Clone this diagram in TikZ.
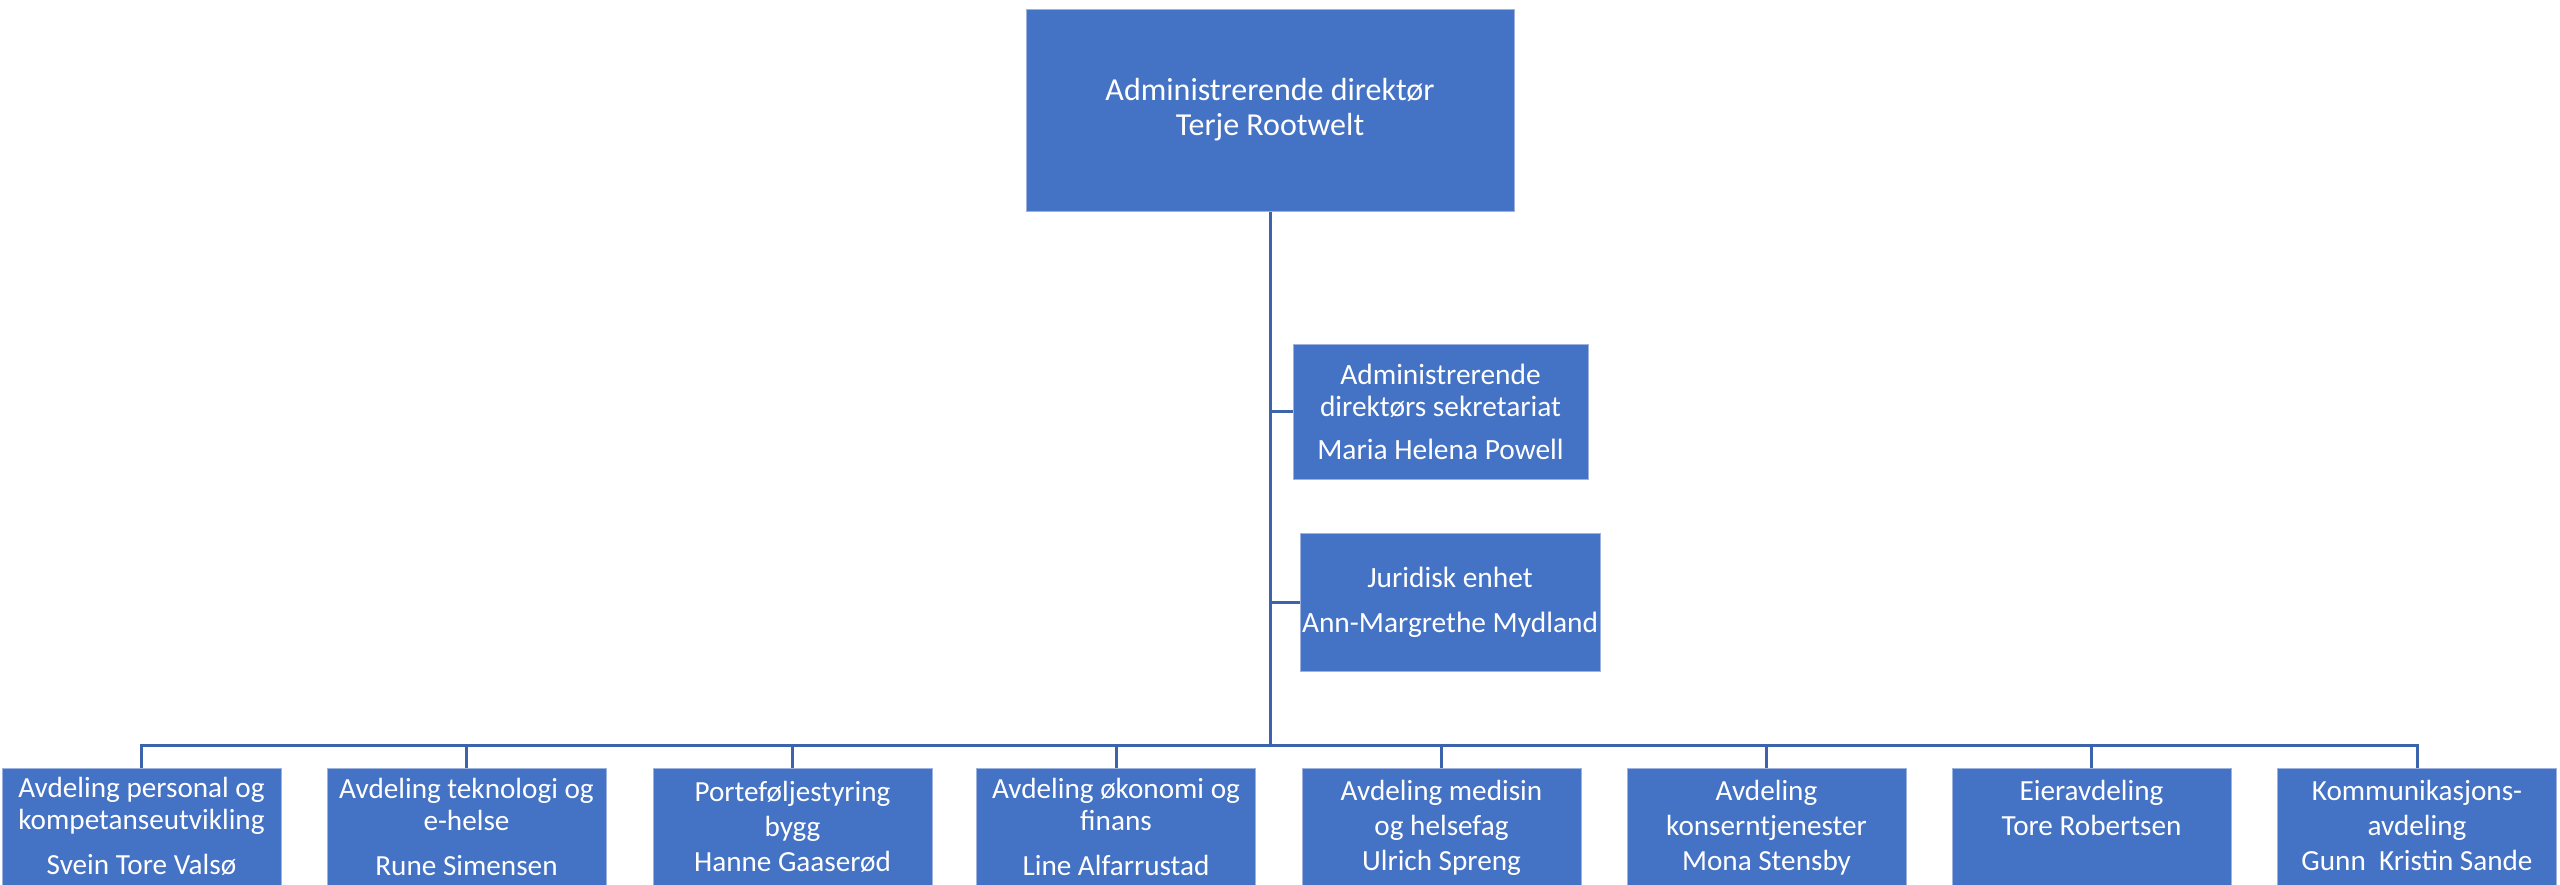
\documentclass[tikz,border=0pt]{standalone}
\usepackage{fontspec}
\setmainfont{Carlito}
\definecolor{boxblue}{HTML}{4472C4}
\definecolor{boxedge}{HTML}{9DB2DE}
\definecolor{linkblue}{HTML}{3B64AD}
\newcommand\deptbody[3]{\parbox[t][70pt][t]{139.5pt}{\centering\fontsize{14.6}{#2}\selectfont\rule{0pt}{#1}#3}}
\begin{document}
\begin{tikzpicture}[x=0.5pt,y=-0.5pt,
  unitbox/.style={rectangle, fill=boxblue, draw=boxedge, line width=0.5pt, text=white, inner sep=0pt, align=center},
  dept/.style={unitbox, anchor=north},
  conn/.style={draw=linkblue, line width=1.5pt}]
\useasboundingbox (0,0) rectangle (2560,884);
\fill[white] (0,0) rectangle (2560,884);

\node[unitbox, minimum width=244pt, minimum height=101pt, font=\fontsize{16}{17.5}\selectfont] (ceo) at (1270,110)
  {Administrerende direktør\\Terje Rootwelt};

\node[unitbox, minimum width=147.5pt, minimum height=67.5pt, font=\fontsize{14.7}{16}\selectfont] (sec) at (1440.5,411.5)
  {Administrerende\\direktørs sekretariat\\[5.5pt]Maria Helena Powell};
\node[unitbox, minimum width=150pt, minimum height=69pt, font=\fontsize{14.7}{16}\selectfont] (jur) at (1450,602)
  {Juridisk enhet\\[6.5pt]Ann-Margrethe Mydland};

\node[dept] (d1) at (141.5,768) {\deptbody{14.5pt}{16pt}{Avdeling personal og\\kompetanseutvikling\\[6.5pt]Svein Tore Valsø}};
\node[dept] (d2) at (466.5,768) {\deptbody{15pt}{16pt}{Avdeling teknologi og\\e-helse\\[6.5pt]Rune Simensen}};
\node[dept] (d3) at (792.5,768) {\deptbody{16.5pt}{17.5pt}{Porteføljestyring\\bygg\\Hanne Gaaserød}};
\node[dept] (d4) at (1116,768) {\deptbody{15pt}{16pt}{Avdeling økonomi og\\finans\\[6.5pt]Line Alfarrustad}};
\node[dept] (d5) at (1441.5,768) {\deptbody{16.2pt}{17.3pt}{Avdeling medisin\\og helsefag\\Ulrich Spreng}};
\node[dept] (d6) at (1766.5,768) {\deptbody{16.2pt}{17.3pt}{Avdeling\\konserntjenester\\Mona Stensby}};
\node[dept] (d7) at (2091.5,768) {\deptbody{16.2pt}{17.3pt}{Eieravdeling\\Tore Robertsen}};
\node[dept] (d8) at (2417,768) {\deptbody{16.2pt}{17.3pt}{Kommunikasjons-\\avdeling\\Gunn~ Kristin Sande}};

\coordinate (hub) at (1270,745);
\draw[conn] (ceo.south) -- (hub);
\draw[conn] (ceo.south |- sec.west) -- (sec.west);
\draw[conn] (ceo.south |- jur.west) -- (jur.west);
\foreach \d in {d1,d2,d3,d4,d5,d6,d7,d8}
  \draw[conn] (hub) -| (\d.north);
\end{tikzpicture}
\end{document}
